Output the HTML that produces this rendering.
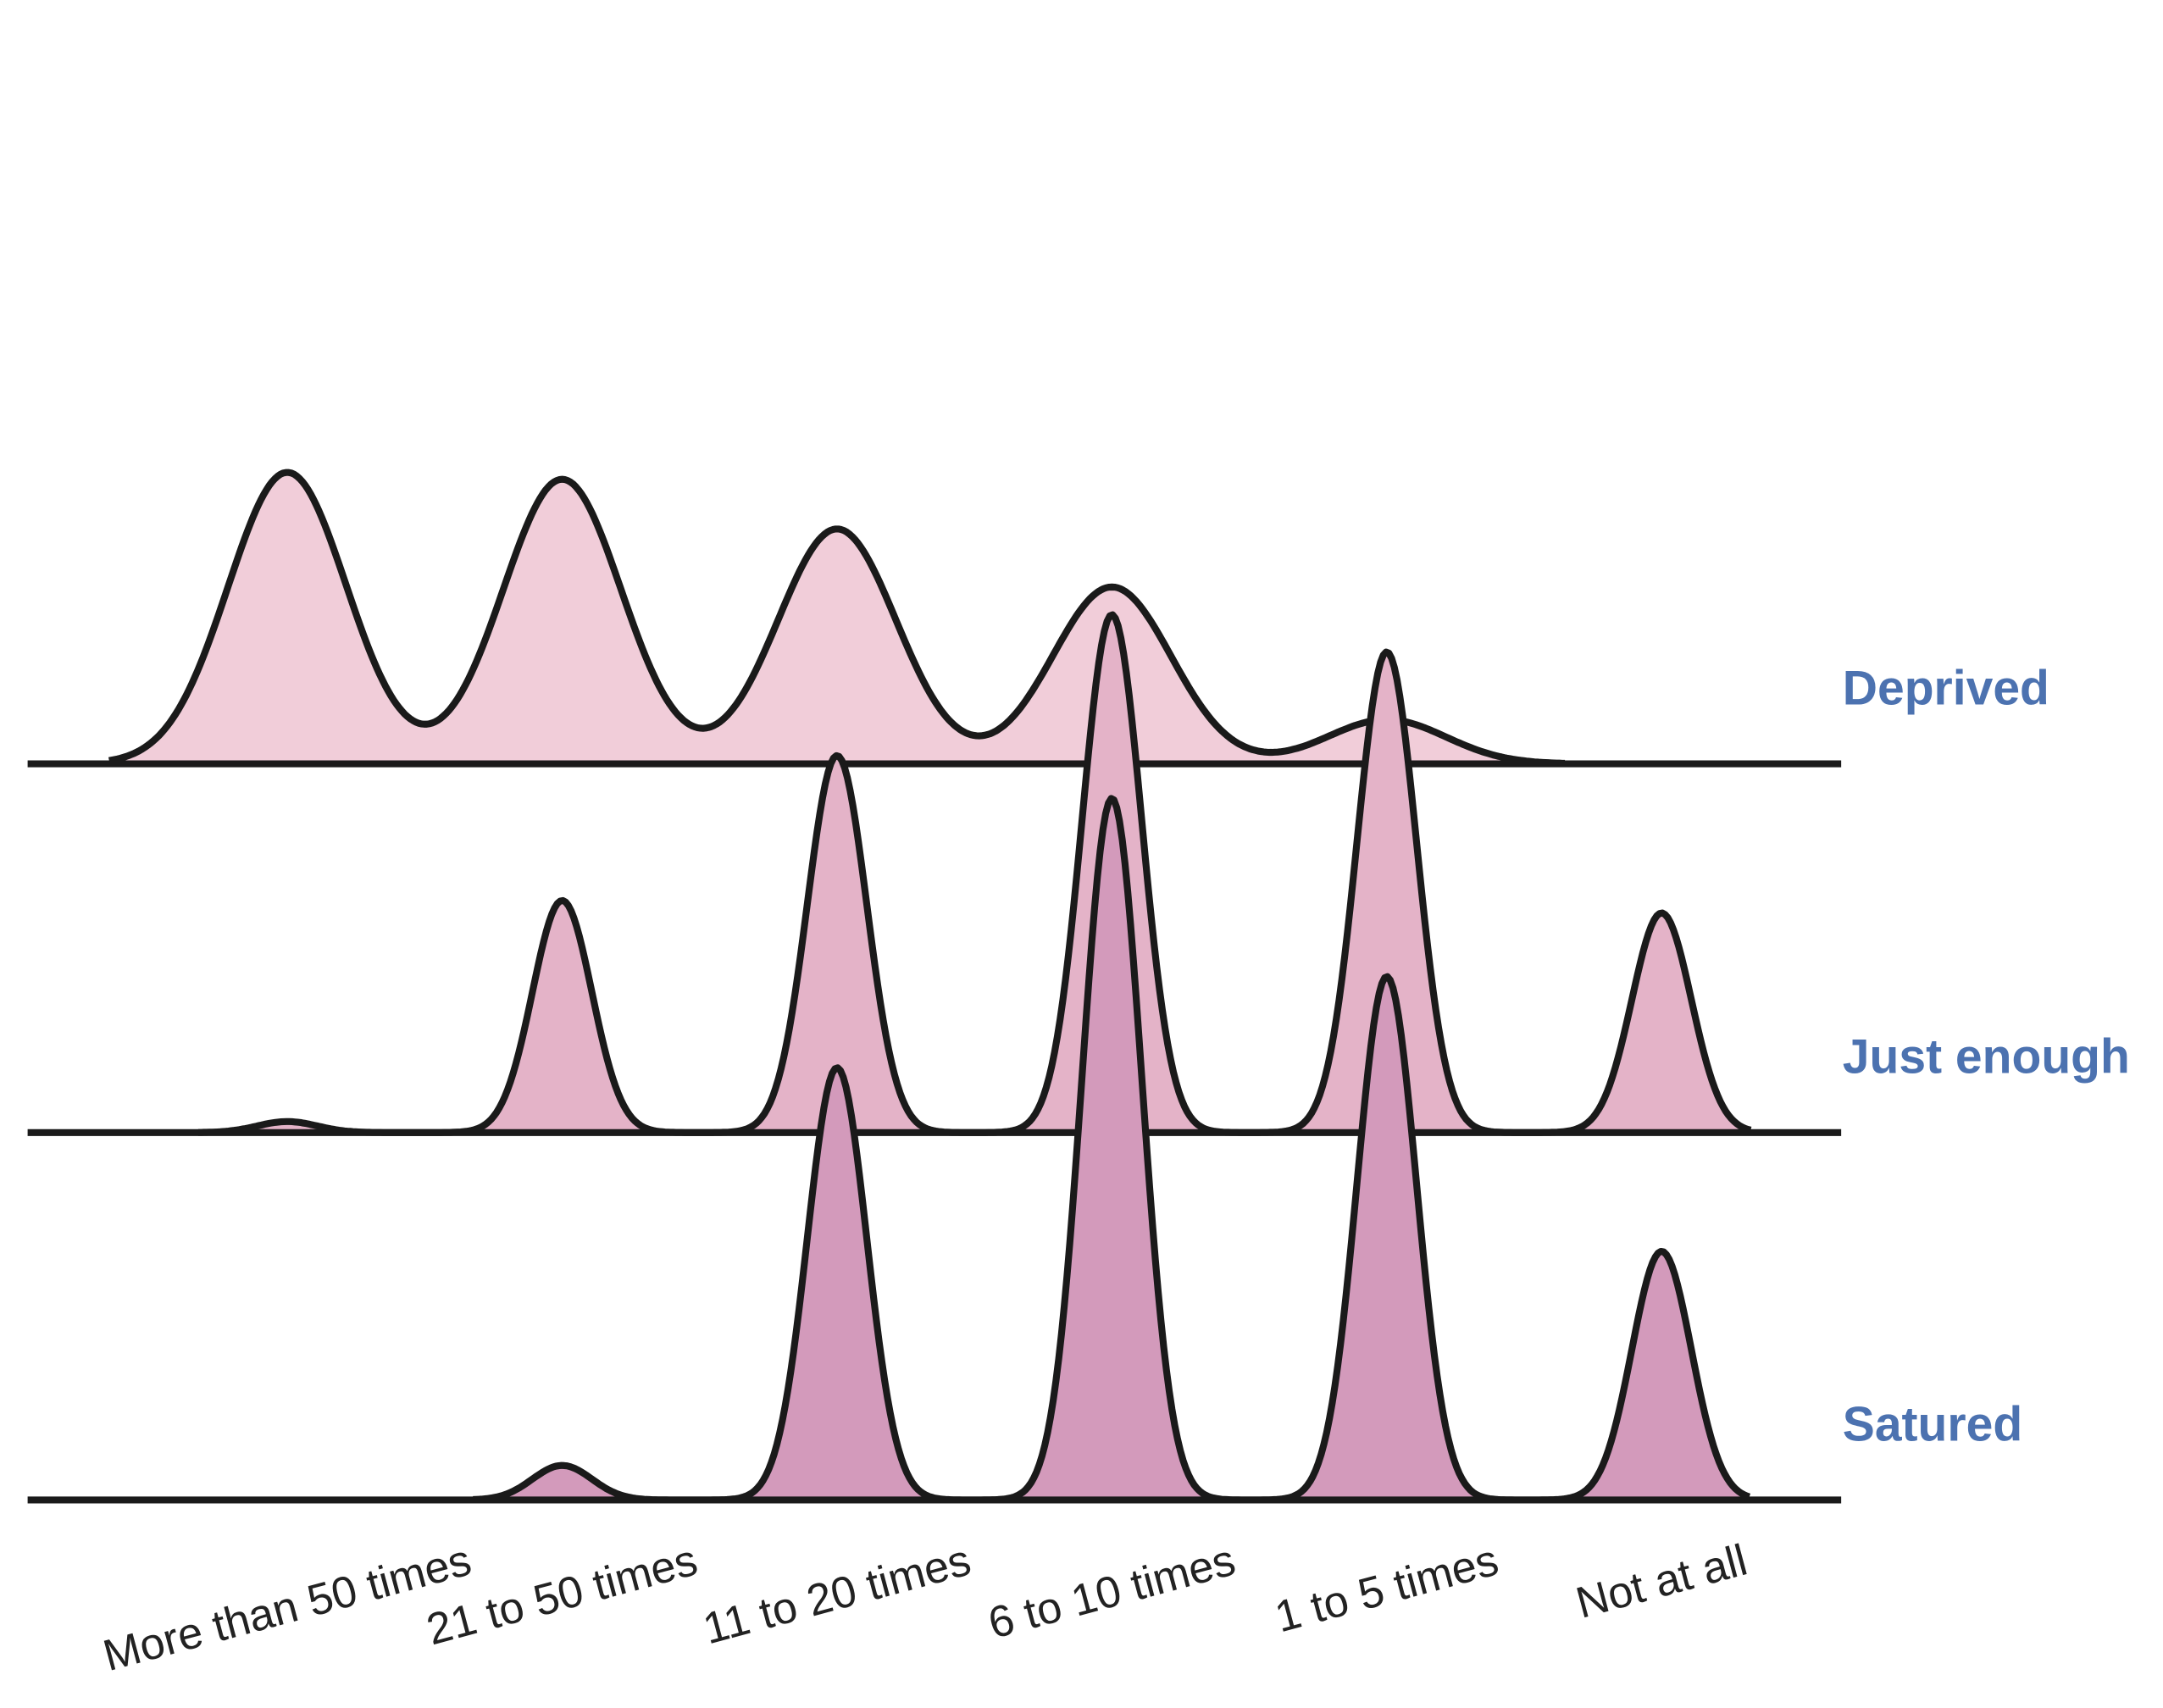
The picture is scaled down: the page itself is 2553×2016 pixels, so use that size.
<!DOCTYPE html>
<html><head><meta charset="utf-8"><style>
html,body{margin:0;padding:0;background:#fff;}
svg{display:block;}
</style></head><body>
<svg id="chart" width="2553" height="2016" viewBox="0 0 1566 1236.6" xmlns="http://www.w3.org/2000/svg">
<rect width="1566" height="1237" fill="#fff"/>
<g id="plot"></g>
<g id="xlabels"></g>
</svg>
<script>
const categories = ["More than 50 times","21 to 50 times","11 to 20 times","6 to 10 times","1 to 5 times","Not at all"];
const groups = ["Deprived","Just enough","Satured"];
const deprivedValues = [211, 206, 170, 128, 32, 0];
const justEnoughValues = [8, 168, 273, 375, 348, 159];
const saturedValues = [0, 25, 313, 508, 379, 180];

const NS = "http://www.w3.org/2000/svg";
const plot = document.getElementById('plot');
const xl = document.getElementById('xlabels');
const xScale = i => 208 + i * 199;
const baselines = [553, 820, 1086];
const sigmas = [43, 21.5, 21.5];
const fills = ["#f1cdd9", "#e4b3c8", "#d39abb"];
const series = [deprivedValues, justEnoughValues, saturedValues];

series.forEach((vals, g) => {
  const base = baselines[g], sg = sigmas[g];
  const nz = vals.map((v, i) => v > 0 ? i : -1).filter(i => i >= 0);
  const x0 = xScale(Math.min(...nz)) - 3 * sg, x1 = xScale(Math.max(...nz)) + 3 * sg;
  const dens = x => vals.reduce((s, v, i) => s + v * Math.exp(-Math.pow(x - xScale(i), 2) / (2 * sg * sg)), 0);
  let d = "";
  for (let x = x0; x <= x1; x += 2) {
    d += (d ? "L" : "M") + x.toFixed(1) + "," + (base - dens(x)).toFixed(1);
  }
  const area = document.createElementNS(NS, 'path');
  area.setAttribute('d', d + "L" + x1 + "," + base + "L" + x0 + "," + base + "Z");
  area.setAttribute('fill', fills[g]);
  
  
  plot.appendChild(area);
  const line = document.createElementNS(NS, 'path');
  line.setAttribute('d', d);
  line.setAttribute('fill', 'none');
  line.setAttribute('stroke', '#1a1a1a');
  line.setAttribute('stroke-width', '5');
  line.setAttribute('stroke-linejoin', 'round');
  
  
  plot.appendChild(line);
  const bl = document.createElementNS(NS, 'line');
  bl.setAttribute('x1', 20); bl.setAttribute('x2', 1333);
  bl.setAttribute('y1', base); bl.setAttribute('y2', base);
  bl.setAttribute('stroke', '#1a1a1a'); bl.setAttribute('stroke-width', '5');
  
  
  plot.appendChild(bl);
  const t = document.createElementNS(NS, 'text');
  t.setAttribute('x', 1334); t.setAttribute('y', base - 43);
  t.setAttribute('font-family', 'Liberation Sans, sans-serif');
  t.setAttribute('font-size', '35'); t.setAttribute('font-weight', 'bold');
  t.setAttribute('fill', '#4c72b0');
  t.textContent = groups[g];
  
  
  plot.appendChild(t);
});

categories.forEach((c, i) => {
  const t = document.createElementNS(NS, 'text');
  t.setAttribute('font-family', 'Liberation Sans, sans-serif');
  t.setAttribute('font-size', '32');
  t.setAttribute('fill', '#222');
  t.setAttribute('text-anchor', 'middle');
  t.setAttribute('dominant-baseline', 'central');
  t.textContent = c;
  
  
  xl.appendChild(t);
  const w = t.getComputedTextLength();
  const cy = 1112 + (w * 0.2588 + 34) / 2;
  const cx = xScale(i);
  t.setAttribute('x', cx); t.setAttribute('y', cy);
  t.setAttribute('transform', 'rotate(-15 ' + cx + ' ' + cy + ')');
});
</script>
</body></html>
